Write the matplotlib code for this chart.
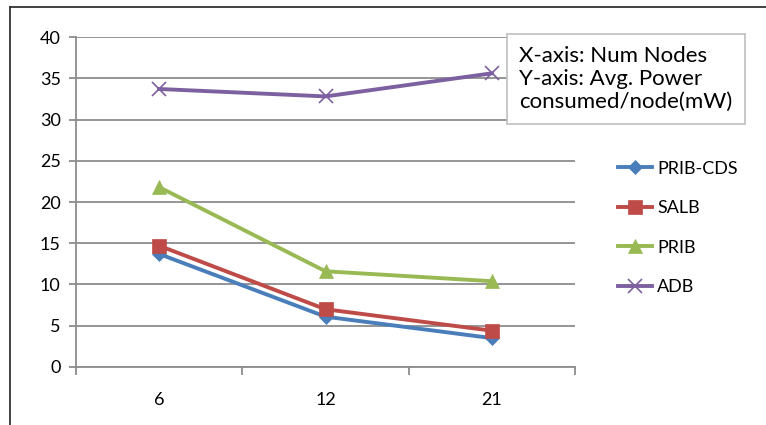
import numpy as np
import matplotlib.pyplot as plt
from matplotlib.lines import Line2D

plt.rcParams['font.family'] = ['Lato', 'DejaVu Sans']

nodes = ['6', '12', '21']
prib_cds = [13.7, 6.1, 3.5]
salb = [14.7, 7.0, 4.4]
prib = [21.8, 11.6, 10.4]
adb = [33.7, 32.8, 35.6]

series = [
    ('PRIB-CDS', prib_cds, '#4A7EBB', 'D', 7),
    ('SALB', salb, '#BE4B48', 's', 10),
    ('PRIB', prib, '#98B954', '^', 10),
    ('ADB', adb, '#7D60A0', 'x', 10),
]

fig = plt.figure(figsize=(7.66, 4.25), dpi=100)
ax = fig.add_axes([0.0992, 0.1365, 0.6515, 0.7764])

x = np.arange(len(nodes))
for name, vals, col, mk, ms in series:
    ax.plot(x, vals, color=col, lw=2.8, marker=mk, markersize=ms,
            markeredgewidth=1.2 if mk == 'x' else 0.5,
            markeredgecolor=col, label=name, zorder=3)

ax.set_xlim(-0.5, 2.5)
ax.set_ylim(0, 40)
ax.set_yticks(range(0, 41, 5))
ax.yaxis.grid(True, color='#8c8c8c', lw=1.3)
ax.set_axisbelow(True)

# category boundaries get tick marks, labels sit in between
ax.set_xticks([-0.5, 0.5, 1.5, 2.5])
ax.set_xticklabels([])
ax.set_xticks(x, minor=True)
ax.set_xticklabels(nodes, minor=True)
ax.tick_params(axis='x', which='major', length=6, width=1.3, color='#8c8c8c')
ax.tick_params(axis='x', which='minor', length=0, pad=18, labelsize=13)
ax.tick_params(axis='y', length=5, width=1.3, color='#8c8c8c', labelsize=13, pad=6)

for s in ['top', 'right']:
    ax.spines[s].set_visible(False)
for s in ['left', 'bottom']:
    ax.spines[s].set_color('#8c8c8c')
    ax.spines[s].set_linewidth(1.3)

handles = [Line2D([0], [0], color=c, lw=2.8, marker=m, markersize=ms,
                  markeredgecolor=c, markeredgewidth=1.2 if m == 'x' else 0.5)
           for _, _, c, m, ms in series]
fig.legend(handles, [s[0] for s in series], loc='upper left',
           bbox_to_anchor=(0.785, 0.66), frameon=False, fontsize=13,
           handlelength=1.9, handletextpad=0.3, labelspacing=1.3)

# axis description box
fig.text(0.678, 0.815, 'X-axis: Num Nodes\nY-axis: Avg. Power\nconsumed/node(mW)',
         fontsize=16, va='center', ha='left', linespacing=1.18,
         bbox=dict(boxstyle='square,pad=0.55', fc='white', ec='#bfbfbf', lw=1.2))

# outer chart frame
fig.add_artist(Line2D([0.013, 1.0], [0.983, 0.983], color='#333333', lw=1.3))
fig.add_artist(Line2D([0.013, 0.013], [0.0, 0.983], color='#333333', lw=1.3))

fig.savefig('out.png', dpi=100)
